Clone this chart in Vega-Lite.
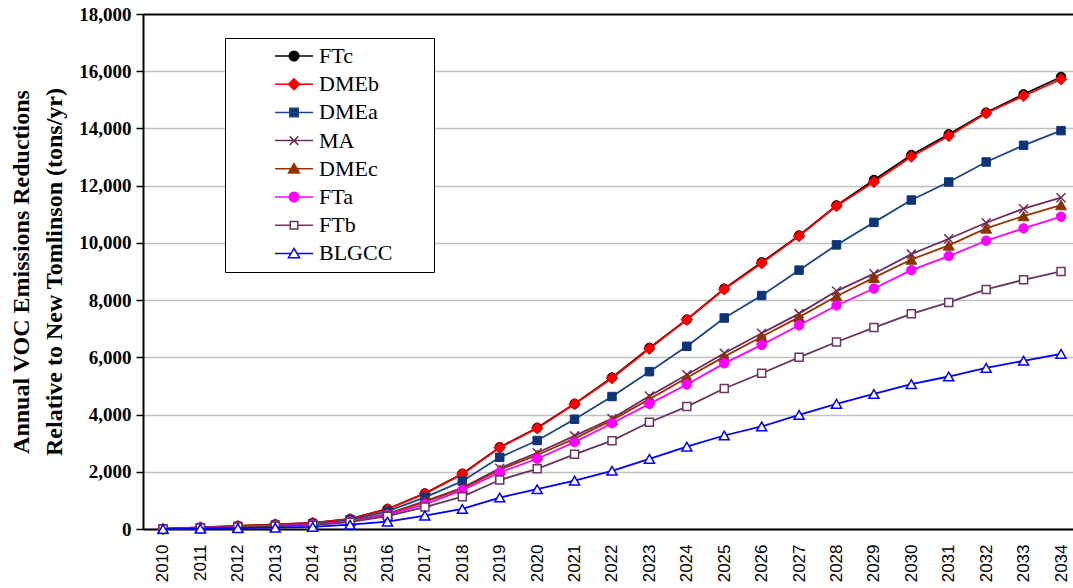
{
  "$schema": "https://vega.github.io/schema/vega-lite/v6.json",
  "width": 930,
  "height": 515,
  "autosize": {"type": "none"},
  "padding": {"left": 143, "top": 14, "right": 0, "bottom": 59},
  "background": "white",
  "config": {
    "view": {"stroke": null}
  },
  "data": {
    "values": [
      {"year": 2010, "FTc": 0, "DMEb": 0, "DMEa": 0, "MA": 0, "DMEc": 0, "FTa": 0, "FTb": 0, "BLGCC": 0},
      {"year": 2011, "FTc": 55, "DMEb": 55, "DMEa": 45, "MA": 40, "DMEc": 40, "FTa": 40, "FTb": 35, "BLGCC": 15},
      {"year": 2012, "FTc": 105, "DMEb": 105, "DMEa": 90, "MA": 80, "DMEc": 80, "FTa": 75, "FTb": 70, "BLGCC": 30},
      {"year": 2013, "FTc": 160, "DMEb": 160, "DMEa": 135, "MA": 120, "DMEc": 115, "FTa": 110, "FTb": 100, "BLGCC": 45},
      {"year": 2014, "FTc": 215, "DMEb": 210, "DMEa": 180, "MA": 160, "DMEc": 155, "FTa": 150, "FTb": 135, "BLGCC": 75},
      {"year": 2015, "FTc": 350, "DMEb": 345, "DMEa": 320, "MA": 280, "DMEc": 270, "FTa": 260, "FTb": 240, "BLGCC": 150},
      {"year": 2016, "FTc": 700, "DMEb": 695, "DMEa": 620, "MA": 530, "DMEc": 515, "FTa": 490, "FTb": 450, "BLGCC": 260},
      {"year": 2017, "FTc": 1245, "DMEb": 1235, "DMEa": 1105, "MA": 975, "DMEc": 945, "FTa": 860, "FTb": 765, "BLGCC": 470},
      {"year": 2018, "FTc": 1930, "DMEb": 1915, "DMEa": 1672, "MA": 1440, "DMEc": 1410, "FTa": 1357, "FTb": 1130, "BLGCC": 700},
      {"year": 2019, "FTc": 2860, "DMEb": 2845, "DMEa": 2505, "MA": 2125, "DMEc": 2070, "FTa": 1980, "FTb": 1712, "BLGCC": 1100},
      {"year": 2020, "FTc": 3535, "DMEb": 3520, "DMEa": 3092, "MA": 2665, "DMEc": 2588, "FTa": 2455, "FTb": 2105, "BLGCC": 1390},
      {"year": 2021, "FTc": 4375, "DMEb": 4365, "DMEa": 3837, "MA": 3255, "DMEc": 3160, "FTa": 3035, "FTb": 2610, "BLGCC": 1690},
      {"year": 2022, "FTc": 5295, "DMEb": 5270, "DMEa": 4630, "MA": 3860, "DMEc": 3805, "FTa": 3698, "FTb": 3088, "BLGCC": 2035},
      {"year": 2023, "FTc": 6330, "DMEb": 6300, "DMEa": 5500, "MA": 4650, "DMEc": 4540, "FTa": 4373, "FTb": 3733, "BLGCC": 2450},
      {"year": 2024, "FTc": 7320, "DMEb": 7315, "DMEa": 6385, "MA": 5390, "DMEc": 5285, "FTa": 5050, "FTb": 4278, "BLGCC": 2878},
      {"year": 2025, "FTc": 8400, "DMEb": 8380, "DMEa": 7375, "MA": 6141, "DMEc": 6024, "FTa": 5790, "FTb": 4910, "BLGCC": 3268},
      {"year": 2026, "FTc": 9320, "DMEb": 9290, "DMEa": 8160, "MA": 6840, "DMEc": 6720, "FTa": 6434, "FTb": 5443, "BLGCC": 3585},
      {"year": 2027, "FTc": 10260, "DMEb": 10240, "DMEa": 9047, "MA": 7528, "DMEc": 7405, "FTa": 7120, "FTb": 6000, "BLGCC": 3990},
      {"year": 2028, "FTc": 11310, "DMEb": 11290, "DMEa": 9930, "MA": 8316, "DMEc": 8135, "FTa": 7812, "FTb": 6535, "BLGCC": 4375},
      {"year": 2029, "FTc": 12198, "DMEb": 12128, "DMEa": 10717, "MA": 8924, "DMEc": 8784, "FTa": 8404, "FTb": 7040, "BLGCC": 4720},
      {"year": 2030, "FTc": 13072, "DMEb": 13014, "DMEa": 11498, "MA": 9607, "DMEc": 9420, "FTa": 9046, "FTb": 7522, "BLGCC": 5064},
      {"year": 2031, "FTc": 13795, "DMEb": 13737, "DMEa": 12128, "MA": 10145, "DMEc": 9912, "FTa": 9539, "FTb": 7918, "BLGCC": 5330},
      {"year": 2032, "FTc": 14553, "DMEb": 14530, "DMEa": 12827, "MA": 10705, "DMEc": 10507, "FTa": 10075, "FTb": 8373, "BLGCC": 5630},
      {"year": 2033, "FTc": 15194, "DMEb": 15136, "DMEa": 13410, "MA": 11195, "DMEc": 10938, "FTa": 10507, "FTb": 8711, "BLGCC": 5880},
      {"year": 2034, "FTc": 15800, "DMEb": 15719, "DMEa": 13923, "MA": 11580, "DMEc": 11323, "FTa": 10915, "FTb": 9003, "BLGCC": 6120}
    ]
  },
  "transform": [
    {"fold": ["FTc", "DMEb", "DMEa", "MA", "DMEc", "FTa", "FTb", "BLGCC"], "as": ["series", "v"]}
  ],
  "encoding": {
    "x": {
      "field": "year",
      "type": "ordinal",
      "scale": {"type": "point", "padding": 0.4276, "align": 0.625},
      "axis": {
        "title": null,
        "labelAngle": 270,
        "labelFont": "Liberation Sans",
        "labelFontSize": 17,
        "labelColor": "black",
        "labelPadding": 15,
        "ticks": false,
        "domainColor": "black",
        "domainWidth": 2,
        "grid": false
      }
    },
    "y": {
      "field": "v",
      "type": "quantitative",
      "scale": {"domain": [0, 18000], "nice": false},
      "axis": {
        "values": [0, 2000, 4000, 6000, 8000, 10000, 12000, 14000, 16000, 18000],
        "format": ",.0f",
        "labelFont": "Liberation Serif",
        "labelFontWeight": "bold",
        "labelFontSize": 19,
        "labelColor": "black",
        "labelPadding": 5,
        "tickSize": 7,
        "tickColor": "black",
        "tickWidth": 1.5,
        "domainColor": "black",
        "domainWidth": 2,
        "grid": true,
        "gridColor": {"condition": {"test": "datum.value === 18000", "value": "black"}, "value": "#c0c0c0"},
        "gridWidth": {"condition": {"test": "datum.value === 18000", "value": 2}, "value": 1.5},
        "title": ["Annual VOC Emissions Reductions", "Relative to New Tomlinson (tons/yr)"],
        "titleFont": "Liberation Serif",
        "titleFontSize": 24,
        "titleFontWeight": "bold",
        "titleColor": "black",
        "titleAngle": 270,
        "titleAlign": "center",
        "titleBaseline": "middle",
        "titleLineHeight": 33,
        "titleX": -122,
        "titleY": 257.5
      }
    }
  },
  "layer": [
    {
      "transform": [{"filter": "datum.series === 'FTc'"}],
      "mark": {"type": "line", "color": "#000000", "strokeWidth": 1.8,
        "point": {"shape": "circle", "filled": true, "fill": "#000000", "stroke": "#000000", "strokeWidth": 1, "size": 90}}
    },
    {
      "transform": [{"filter": "datum.series === 'DMEb'"}],
      "mark": {"type": "line", "color": "#ff0000", "strokeWidth": 1.8,
        "point": {"shape": "diamond", "filled": true, "fill": "#ff0000", "stroke": "#ff0000", "strokeWidth": 1, "size": 130}}
    },
    {
      "transform": [{"filter": "datum.series === 'DMEa'"}],
      "mark": {"type": "line", "color": "#1b4585", "strokeWidth": 1.8,
        "point": {"shape": "square", "filled": true, "fill": "#0d3578", "stroke": "#0d3578", "strokeWidth": 1, "size": 72}}
    },
    {
      "transform": [{"filter": "datum.series === 'MA'"}],
      "mark": {"type": "line", "color": "#6b2d5f", "strokeWidth": 1.8,
        "point": {"shape": "M-1,-1L1,1M-1,1L1,-1", "filled": false, "fill": "transparent", "stroke": "#6b2d5f", "strokeWidth": 1.5, "size": 81}}
    },
    {
      "transform": [{"filter": "datum.series === 'DMEc'"}],
      "mark": {"type": "line", "color": "#993300", "strokeWidth": 1.8,
        "point": {"shape": "triangle-up", "filled": true, "fill": "#8b3300", "stroke": "#8b3300", "strokeWidth": 1, "size": 120}}
    },
    {
      "transform": [{"filter": "datum.series === 'FTa'"}],
      "mark": {"type": "line", "color": "#ff00ff", "strokeWidth": 1.8,
        "point": {"shape": "circle", "filled": true, "fill": "#ff00ff", "stroke": "#ff00ff", "strokeWidth": 1, "size": 90}}
    },
    {
      "transform": [{"filter": "datum.series === 'FTb'"}],
      "mark": {"type": "line", "color": "#6b3560", "strokeWidth": 1.8,
        "point": {"shape": "square", "filled": true, "fill": "#ffffff", "stroke": "#6b3560", "strokeWidth": 1.5, "size": 64}}
    },
    {
      "transform": [{"filter": "datum.series === 'BLGCC'"}],
      "mark": {"type": "line", "color": "#0000ff", "strokeWidth": 1.8,
        "point": {"shape": "triangle-up", "filled": true, "fill": "#ffffff", "stroke": "#0000ff", "strokeWidth": 1.5, "size": 100}}
    },
    {
      "transform": [{"filter": "datum.series === 'none'"}],
      "mark": {"type": "point", "filled": true, "strokeWidth": 1.5, "opacity": 1},
      "encoding": {
        "shape": {
          "field": "series",
          "type": "nominal",
          "scale": {
            "domain": ["FTc", "DMEb", "DMEa", "MA", "DMEc", "FTa", "FTb", "BLGCC"],
            "range": [
              "M-3.8,0H3.8M0.95,0A0.95,0.95,0,1,1,-0.95,0A0.95,0.95,0,1,1,0.95,0ZM25.9,0",
              "M-3.8,0H3.8M0,-1.1L1.1,0L0,1.1L-1.1,0Z",
              "M-3.8,0H3.8M-0.85,-0.85H0.85V0.85H-0.85Z",
              "M-3.8,0H3.8M-0.85,-0.85L0.85,0.85M-0.85,0.85L0.85,-0.85",
              "M-3.8,0H3.8M0,-1.05L1.1,0.85H-1.1Z",
              "M-3.8,0H3.8M0.95,0A0.95,0.95,0,1,1,-0.95,0A0.95,0.95,0,1,1,0.95,0Z",
              "M-3.8,0H-0.75M0.75,0H3.8M-0.75,-0.75H0.75V0.75H-0.75Z",
              "M-3.8,0H-0.6M0.6,0H3.8M0,-1L1.1,0.85H-1.1Z"
            ]
          },
          "legend": {
            "title": null,
            "orient": "none",
            "legendX": 82,
            "legendY": 24,
            "padding": 7,
            "strokeColor": "black",
            "fillColor": "white",
            "labelFont": "Liberation Serif",
            "labelFontSize": 22,
            "labelColor": "black",
            "rowPadding": 6.2,
            "symbolSize": 100,
            "symbolOffset": 51,
            "labelOffset": 14,
            "symbolStrokeWidth": 1.5,
            "symbolOpacity": 1,
            "encode": {
              "legend": {"update": {"strokeWidth": {"value": 1.5}}},
              "symbols": {"update": {"opacity": {"value": 1}}}
            }
          }
        },
        "fill": {
          "field": "series",
          "type": "nominal",
          "scale": {
            "domain": ["FTc", "DMEb", "DMEa", "MA", "DMEc", "FTa", "FTb", "BLGCC"],
            "range": ["#000000", "#ff0000", "#0d3578", "#6b2d5f", "#8b3300", "#ff00ff", "#ffffff", "#ffffff"]
          },
          "legend": {"title": null}
        },
        "stroke": {
          "field": "series",
          "type": "nominal",
          "scale": {
            "domain": ["FTc", "DMEb", "DMEa", "MA", "DMEc", "FTa", "FTb", "BLGCC"],
            "range": ["#000000", "#ff0000", "#1b4585", "#6b2d5f", "#993300", "#ff00ff", "#6b3560", "#0000ff"]
          },
          "legend": {"title": null}
        }
      }
    }
  ]
}
